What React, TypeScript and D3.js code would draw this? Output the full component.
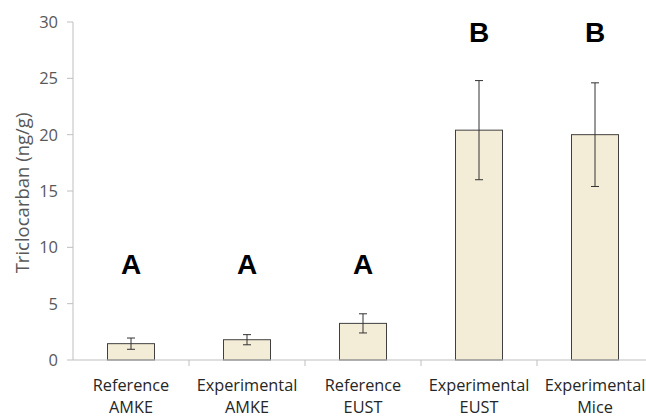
import React from "react";
import * as d3 from "d3";

const categoriesLine1 = ["Reference", "Experimental", "Reference", "Experimental", "Experimental"];
const categoriesLine2 = ["AMKE", "AMKE", "EUST", "EUST", "Mice"];
const means = [1.45, 1.8, 3.25, 20.4, 20.0];
const errors = [0.5, 0.45, 0.85, 4.4, 4.6];
const letters = ["A", "A", "A", "B", "B"];
const letterValues = [7.63, 7.63, 7.63, 28.2, 28.2];
const yTicks = [0, 5, 10, 15, 20, 25, 30];

const W = 646;
const H = 417;
const left = 73;
const right = 653;
const top = 22;
const bottom = 360;

export default function App() {
  const idx = categoriesLine1.map((_, i) => i);
  const x = d3.scaleBand<number>().domain(idx).range([left, right]).paddingInner(0).paddingOuter(0);
  const y = d3.scaleLinear().domain([0, 30]).range([bottom, top]);
  const bw = 47;
  const font = "'Open Sans', sans-serif";
  const axisColor = "#BFBFBF";
  const textColor = "#595959";

  return (
    <svg width={W} height={H} style={{ position: "absolute", left: 0, top: 0 }} fontFamily={font}>
      <rect width={W} height={H} fill="#fff" />
      {/* y axis */}
      <line x1={left} x2={left} y1={y(30)} y2={bottom} stroke={axisColor} strokeWidth={1} />
      {yTicks.map((t) => (
        <g key={t}>
          <line x1={left - 6} x2={left} y1={y(t)} y2={y(t)} stroke={axisColor} />
          <text x={left - 15} y={y(t)} dy="0.36em" textAnchor="end" fontSize={16.5} fill={textColor}>
            {t}
          </text>
        </g>
      ))}
      <text
        transform={`translate(22,${(y(0) + y(30)) / 2 + 2}) rotate(-90)`}
        textAnchor="middle"
        dy="0.36em"
        fontSize={18.5}
        fill={textColor}
      >
        Triclocarban (ng/g)
      </text>
      {/* bars */}
      {idx.map((i) => {
        const cx = x(i)! + x.bandwidth() / 2;
        return (
          <g key={i}>
            <rect
              x={cx - bw / 2}
              y={y(means[i])}
              width={bw}
              height={bottom - y(means[i])}
              fill="#F3ECD6"
              stroke="#404040"
              strokeWidth={1}
            />
            <line x1={cx} x2={cx} y1={y(means[i] + errors[i])} y2={y(means[i] - errors[i])} stroke="#333" />
            <line x1={cx - 4} x2={cx + 4} y1={y(means[i] + errors[i])} y2={y(means[i] + errors[i])} stroke="#333" />
            <line x1={cx - 4} x2={cx + 4} y1={y(means[i] - errors[i])} y2={y(means[i] - errors[i])} stroke="#333" />
            <text x={cx} y={y(letterValues[i])} textAnchor="middle" fontSize={28} fontWeight="bold" fill="#000" fontFamily="'Liberation Sans', Arial, sans-serif">
              {letters[i]}
            </text>
            <text x={cx} y={391} textAnchor="middle" fontSize={16.3} fill="#262626">
              {categoriesLine1[i]}
            </text>
            <text x={cx} y={413} textAnchor="middle" fontSize={16.3} fill="#262626">
              {categoriesLine2[i]}
            </text>
          </g>
        );
      })}
      {/* x axis */}
      <line x1={left} x2={right} y1={bottom} y2={bottom} stroke={axisColor} />
      {idx.slice(1).map((i) => (
        <line key={i} x1={x(i)!} x2={x(i)!} y1={bottom} y2={bottom + 6} stroke={axisColor} />
      ))}
    </svg>
  );
}
